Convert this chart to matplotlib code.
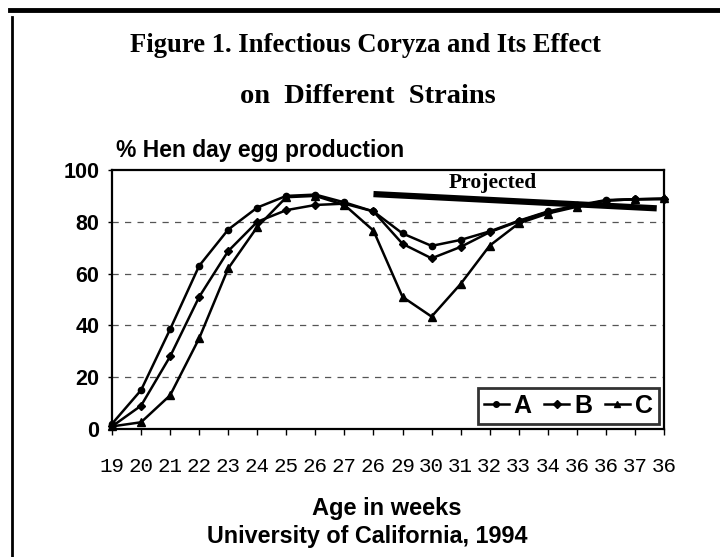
import matplotlib
matplotlib.use('Agg')
import matplotlib.pyplot as plt
from matplotlib.lines import Line2D

# ---- data ----
week_labels = ['19', '20', '21', '22', '23', '24', '25', '26', '27', '26',
               '29', '30', '31', '32', '33', '34', '36', '36', '37', '36']
strain_a = [2, 15, 38.5, 63, 77, 85.5, 90, 90.5, 87.5, 84,
            75.5, 70.7, 73, 76.3, 80.4, 84, 86.3, 88.4, 88.7, 88.8]
strain_b = [1, 9, 28, 51, 68.7, 80, 84.5, 86.5, 87, 84,
            71.5, 65.9, 70.3, 76, 80.2, 83.8, 86, 88.2, 88.7, 88.8]
strain_c = [1, 2.6, 13, 35, 62, 78, 89.5, 90, 86.5, 76.6,
            51, 43.4, 56, 70.8, 79.4, 83.2, 85.8, 88.2, 88.7, 89]
projected_x = [9, 18.75]
projected_y = [90.7, 85.2]
y_ticks = [0, 20, 40, 60, 80, 100]

W, H = 720, 557
fig = plt.figure(figsize=(W / 100, H / 100), dpi=100)
fig.patch.set_facecolor('white')

ax = fig.add_axes([112 / W, 1 - 429 / H, 552 / W, 259 / H])
x = list(range(len(week_labels)))

for yv in y_ticks[1:-1]:
    ax.axhline(yv, color='#555555', lw=0.9, ls=(0, (5, 5)), zorder=1)

ax.plot(x, strain_a, color='black', lw=1.8, marker='o', ms=4.5, label='A', clip_on=False, zorder=3)
ax.plot(x, strain_b, color='black', lw=1.8, marker='D', ms=4, label='B', clip_on=False, zorder=3)
ax.plot(x, strain_c, color='black', lw=1.8, marker='^', ms=5.5, label='C', clip_on=False, zorder=3)
ax.plot(projected_x, projected_y, color='black', lw=4.5, solid_capstyle='butt', zorder=4)

ax.text(13.1, 94.8, 'Projected', family='Liberation Serif', weight='bold', fontsize=15.5,
        ha='center', va='center')

ax.set_xlim(0, len(week_labels) - 1)
ax.set_ylim(0, 100)
ax.set_xticks(x)
ax.set_xticklabels(week_labels, family='Liberation Mono', fontsize=15)
ax.set_yticks(y_ticks)
ax.set_yticklabels([str(v) for v in y_ticks], family='Liberation Sans', weight='bold', fontsize=15.5)
ax.tick_params(axis='x', direction='out', length=4, width=1, pad=16)
ax.tick_params(axis='y', direction='out', length=3, width=1, pad=6)
for s in ax.spines.values():
    s.set_linewidth(1.6)
    s.set_color('black')

leg = ax.legend(loc='lower right', ncol=3, frameon=True, fancybox=False,
                prop={'family': 'Liberation Sans', 'weight': 'bold', 'size': 18},
                handlelength=1.0, handletextpad=0.2, columnspacing=0.5,
                borderpad=0.25, borderaxespad=0.2)
leg.get_frame().set_edgecolor('black')
leg.get_frame().set_linewidth(2)
for h in leg.legend_handles:
    h.set_markersize(4)

# titles and labels
fig.text(365 / W, 1 - 46 / H, 'Figure 1. Infectious Coryza and Its Effect',
         family='Liberation Serif', weight='bold', fontsize=19.2, ha='center', va='center')
fig.text(368 / W, 1 - 96 / H, 'on  Different  Strains',
         family='Liberation Serif', weight='bold', fontsize=20.5, ha='center', va='center')
fig.text(116 / W, 1 - 150 / H, '% Hen day egg production',
         family='Liberation Sans', weight='bold', fontsize=16.5, ha='left', va='center')
fig.text(387 / W, 1 - 509 / H, 'Age in weeks',
         family='Liberation Sans', weight='bold', fontsize=17, ha='center', va='center')
fig.text(367 / W, 1 - 537 / H, 'University of California, 1994',
         family='Liberation Sans', weight='bold', fontsize=16.8, ha='center', va='center')

# page border fragments
fig.add_artist(Line2D([10 / W, 1], [1 - 10 / H, 1 - 10 / H], transform=fig.transFigure,
                      color='black', lw=3.5))
fig.add_artist(Line2D([11.5 / W, 11.5 / W], [1 - 17 / H, 0], transform=fig.transFigure,
                      color='black', lw=2))

fig.savefig('out.png', dpi=100)
